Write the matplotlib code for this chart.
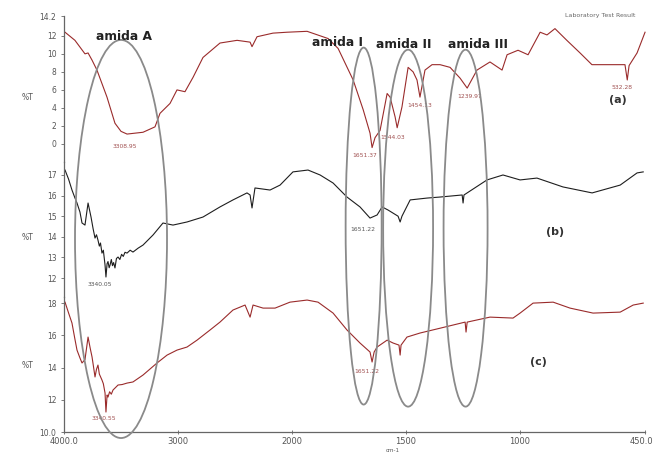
import numpy as np
import matplotlib
matplotlib.use("Agg")
import matplotlib.pyplot as plt
import matplotlib.transforms as mtrans
from matplotlib.patches import Ellipse

# ---------------- data ----------------
wn_a = [3991, 3904, 3816, 3789, 3754, 3711, 3623, 3553, 3500, 3447, 3377, 3307, 3202, 3158,
        3070, 3009, 2939, 2868, 2781, 2632, 2482, 2368, 2351, 2307, 2167, 2044, 1934, 1842,
        1798, 1732, 1688, 1658, 1649, 1636, 1614, 1583, 1570, 1548, 1539, 1518, 1491, 1469,
        1452, 1439, 1417, 1386, 1351, 1307, 1263, 1232, 1189, 1132, 1079, 1057, 1009, 965,
        912, 882, 847, 795, 737, 685, 540, 530, 522, 487, 452]
t_a = [12.4, 11.5, 10.0, 10.1, 9.3, 8.2, 5.2, 2.3, 1.4, 1.1, 1.2, 1.3, 1.9, 3.4,
       4.5, 6.0, 5.8, 7.4, 9.6, 11.2, 11.5, 11.3, 10.8, 11.9, 12.3, 12.4, 12.5, 11.7,
       10.6, 7.1, 3.8, 1.2, -0.4, 0.7, 1.5, 5.6, 5.2, 3.0, 1.8, 4.1, 8.5, 8.0,
       7.1, 5.2, 8.2, 8.8, 8.8, 8.5, 7.3, 6.2, 8.2, 9.1, 8.2, 9.9, 10.4, 9.9,
       12.4, 12.1, 12.8, 11.5, 10.1, 8.8, 8.8, 7.1, 8.7, 10.1, 12.4]

wn_b = [3991, 3960, 3930, 3905, 3886, 3860, 3842, 3816, 3789, 3763, 3745, 3728, 3715, 3702,
        3690, 3680, 3667, 3655, 3640, 3632, 3622, 3614, 3604, 3596, 3585, 3575, 3565, 3553,
        3540, 3526, 3510, 3495, 3480, 3465, 3447, 3420, 3395, 3350, 3307, 3219, 3132,
        3044, 2921, 2781, 2632, 2518, 2395, 2368, 2351, 2325, 2193, 2105, 1996, 1930,
        1877, 1820, 1759, 1702, 1658, 1627, 1605, 1579, 1535, 1526, 1518, 1482, 1408,
        1351, 1254, 1250, 1246, 1145, 1075, 1000, 926, 812, 684, 561, 487, 460]
t_b = [17.24, 16.80, 16.27, 15.90, 15.64, 15.20, 14.67, 14.57, 15.64, 14.96, 14.40, 13.94, 14.10, 13.84,
       13.55, 13.70, 13.21, 13.35, 12.63, 12.05, 12.70, 12.80, 12.50, 12.63, 12.90, 12.60, 12.75, 12.49,
       12.95, 13.02, 12.90, 13.15, 13.05, 13.25, 13.21, 13.35, 13.26, 13.45, 13.60, 14.09, 14.67,
       14.57, 14.72, 14.96, 15.45, 15.79, 16.13, 16.03, 15.40, 16.37, 16.27, 16.51, 17.15, 17.24,
       17.00, 16.61, 15.93, 15.45, 14.91, 15.06, 15.45, 15.30, 15.00, 14.72, 15.00, 15.79, 15.88,
       15.93, 16.03, 15.64, 16.03, 16.76, 17.00, 16.76, 16.85, 16.42, 16.13, 16.51, 17.10, 17.15]

wn_c = [3991, 3960, 3930, 3905, 3886, 3860, 3842, 3816, 3789, 3770, 3754, 3740, 3728, 3715,
        3702, 3690, 3667, 3655, 3640, 3632, 3622, 3614, 3600, 3585, 3570, 3550, 3526, 3490,
        3447, 3395, 3307, 3184, 3096, 3009, 2921, 2833, 2719, 2632, 2518, 2412, 2368, 2342,
        2254, 2149, 2018, 1934, 1886, 1820, 1759, 1702, 1658, 1649, 1640, 1627, 1583, 1557,
        1531, 1526, 1522, 1496, 1439, 1351, 1241, 1237, 1232, 1132, 1031, 1000, 943, 855,
        781, 680, 561, 504, 460]
t_c = [18.07, 17.40, 16.77, 15.80, 15.09, 14.60, 14.29, 14.50, 15.90, 15.20, 14.66, 14.00, 13.42, 13.90,
       14.16, 13.60, 13.23, 13.00, 12.42, 11.24, 12.30, 12.17, 12.50, 12.35, 12.61, 12.75, 12.92, 12.95,
       13.04, 13.11, 13.54, 14.29, 14.78, 15.09, 15.28, 15.71, 16.34, 16.83, 17.58, 17.89, 17.14, 17.89,
       17.70, 17.70, 18.07, 18.20, 18.07, 17.39, 16.34, 15.53, 14.97, 14.35, 14.97, 15.28, 15.71, 15.53,
       15.40, 14.78, 15.40, 15.90, 16.15, 16.45, 16.83, 16.21, 16.83, 17.14, 17.08, 17.39, 18.01, 18.07,
       17.70, 17.39, 17.45, 17.89, 18.01]

peaks_a = [("3308.95", 3465, -0.3), ("1651.37", 1680, -1.3), ("1544.03", 1561, 0.7),
           ("1454.13", 1439, 4.3), ("1239.97", 1219, 5.3), ("532.28", 552, 6.3)]
peaks_b = [("3340.05", 3684, 11.7), ("1651.22", 1689, 14.35)]
peaks_c = [("3340.55", 3649, 10.85), ("1651.22", 1671, 13.75)]

xticks = [4000, 3000, 2000, 1500, 1000, 450]
xticklabels = ["4000.0", "3000", "2000", "1500", "1000", "450.0"]
yt_a = [0, 2, 4, 6, 8, 10, 12, 14.2]
ytl_a = ["0", "2", "4", "6", "8", "10", "12", "14.2"]
yt_b = [12, 13, 14, 15, 16, 17]
ytl_b = ["12", "13", "14", "15", "16", "17"]
yt_c = [10, 12, 14, 16, 18]
ytl_c = ["10.0", "12", "14", "16", "18"]

# ---------------- style ----------------
RED = "#9a2b2b"
BLK = "#1e1e1e"
GRY = "#8a8a8a"
TXT = "#555555"

def fwd(x):
    x = np.asarray(x, float)
    return np.where(x >= 2000, x, 2 * x - 2000)

def inv(y):
    y = np.asarray(y, float)
    return np.where(y >= 2000, y, (y + 2000) / 2)

fig = plt.figure(figsize=(6.55, 4.54), dpi=100)
L, W = 64 / 655, (645.5 - 64) / 655
H = 454.0

def mk(top, bot):
    return fig.add_axes([L, 1 - bot / H, W, (bot - top) / H])

ax_a = mk(16, 162)
ax_b = mk(162, 297)
ax_c = mk(297, 432)
ax_o = mk(16, 432)

for ax in (ax_a, ax_b, ax_c, ax_o):
    ax.set_xscale("function", functions=(fwd, inv))
    ax.set_xlim(4000, 450)
    ax.patch.set_alpha(0)
    for s in ("top", "right"):
        ax.spines[s].set_visible(False)
    ax.spines["left"].set_color("#666666")
    ax.spines["bottom"].set_color("#666666")
    ax.spines["left"].set_linewidth(0.9)
    ax.spines["bottom"].set_linewidth(0.9)
    ax.tick_params(axis="y", direction="out", length=2.5, width=0.6, colors="#666666",
                   labelsize=5.5, labelcolor=TXT, pad=3)
    ax.tick_params(axis="x", direction="inout", length=3, width=0.6, colors="#666666",
                   labelsize=6, labelcolor=TXT, pad=2)

for ax in (ax_a, ax_b):
    ax.spines["bottom"].set_visible(False)
    ax.set_xticks([])
    ax.minorticks_off()

ax_a.plot(wn_a, t_a, color=RED, lw=0.8)
ax_b.plot(wn_b, t_b, color=BLK, lw=0.8)
ax_c.plot(wn_c, t_c, color=RED, lw=0.8)

ax_a.set_ylim(-2.0, 14.2)
ax_b.set_ylim(11.08, 17.63)
ax_c.set_ylim(10.0, 18.39)
ax_a.set_yticks(yt_a, ytl_a)
ax_b.set_yticks(yt_b, ytl_b)
ax_c.set_yticks(yt_c, ytl_c)
ax_c.set_xticks(xticks, xticklabels)
ax_c.minorticks_off()
tl = ax_c.get_xticklabels()
tl[-1].set_horizontalalignment("right")
tl[-1].set_transform(tl[-1].get_transform() + mtrans.ScaledTranslation(8 / 100, 0, fig.dpi_scale_trans))

fig.text(393 / 655, 1 - 450.5 / H, "cm-1", fontsize=4.0, color=TXT, ha="center", va="center")

for ax, pk, col in ((ax_a, peaks_a, "#a05050"), (ax_b, peaks_b, "#555555"), (ax_c, peaks_c, "#a05050")):
    for lab, x, y in pk:
        ax.text(x, y, lab, fontsize=4.3, color=col, ha="center", va="center")

ax_a.text(570, 4.9, "(a)", fontsize=8, fontweight="bold", color="#333333", ha="center", va="center")
ax_b.text(847, 14.23, "(b)", fontsize=8, fontweight="bold", color="#333333", ha="center", va="center")
ax_c.text(921, 14.35, "(c)", fontsize=8, fontweight="bold", color="#333333", ha="center", va="center")

for y in (98, 238, 365):
    fig.text(28 / 655, 1 - y / H, "%T", fontsize=5.5, color=TXT, ha="center", va="center")

# overlay with ellipses
ax_o.set_ylim(0, 1)
ax_o.axis("off")
ells = [(3500, 0.464, 807, 0.957), (1686, 0.495, 158, 0.858),
        (1491, 0.490, 219, 0.858), (1239, 0.490, 193, 0.858)]
for cx, cy, w, h in ells:
    e = Ellipse((cx, cy), w, h, fill=False, edgecolor=GRY, lw=1.3, clip_on=False)
    ax_o.add_patch(e)

for x, y, s in ((124, 37, "amida A"), (338, 42, "amida I"), (404, 45, "amida II"), (478, 45, "amida III")):
    fig.text(x / 655, 1 - y / H, s, fontsize=8.8, fontweight="bold", color="#222222",
             ha="center", va="center")

fig.text(600 / 655, 1 - 15 / H, "Laboratory Test Result", fontsize=4.5, color="#666666",
         ha="center", va="center")

fig.savefig("out.png", dpi=100)
